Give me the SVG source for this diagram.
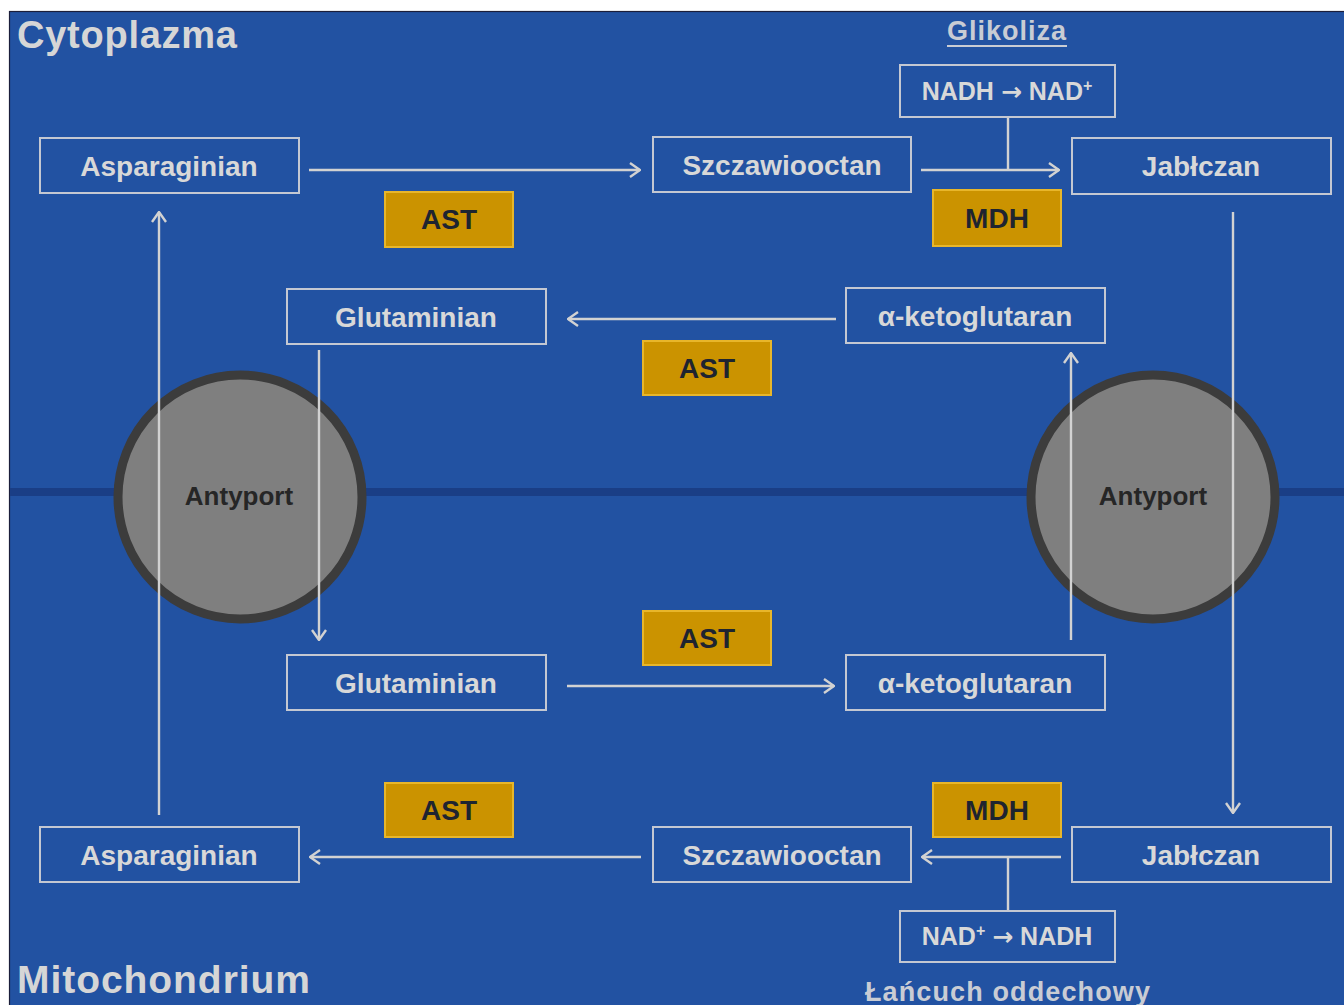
<svg xmlns="http://www.w3.org/2000/svg" width="1344" height="1005" viewBox="0 0 1344 1005">
  <defs>
    <marker id="arr" markerUnits="userSpaceOnUse" viewBox="0 0 12 16" refX="11" refY="8" markerWidth="12" markerHeight="16" orient="auto">
      <path d="M1,1 L11,8 L1,15" fill="none" stroke="#d2d2d2" stroke-width="2.4"/>
    </marker>
    <style>
      .lbl { font-family: "Liberation Sans", Arial, sans-serif; font-weight: bold; }
      .box rect { fill: none; stroke: #c4c8d2; stroke-width: 2; }
      .box text { fill: #d8d8d8; font-size: 28px; text-anchor: middle; }
      .enz rect { fill: #cb9300; stroke: #e8b62a; stroke-width: 2; }
      .enz text { fill: #1e2430; font-size: 28px; text-anchor: middle; }
      .ant circle { fill: #7f7f7f; stroke: #3c3c3c; stroke-width: 9; }
      .ant text { fill: #262626; font-size: 26px; text-anchor: middle; }
      .conn line { stroke: #d2d2d2; stroke-width: 2.4; fill: none; }
      .head { fill: #d6d6d6; }
      .sub { fill: #c9ccd4; }
      .cof rect { fill: none; stroke: #c4c8d2; stroke-width: 2; }
      .cof text { fill: #d8d8d8; font-size: 25px; text-anchor: middle; }
      .ar { font-family: "DejaVu Sans", sans-serif; font-weight: bold; font-size: 25px; }
    </style>
  </defs>

  <rect x="0" y="0" width="1344" height="1005" fill="#ffffff"/>
  <rect x="9.5" y="11.5" width="1340" height="1000" fill="#2252a2" stroke="#1b1e3a" stroke-width="1.2"/>

  <!-- membrane -->
  <line x1="10" y1="492" x2="1344" y2="492" stroke="#1a3e86" stroke-width="8"/>

  <!-- headings -->
  <text class="lbl head" x="17" y="48" font-size="38" textLength="220">Cytoplazma</text>
  <text class="lbl head" x="17" y="993" font-size="39" textLength="293">Mitochondrium</text>
  <text class="lbl sub" x="947" y="40" font-size="27" textLength="119">Glikoliza</text>
  <line x1="947" y1="46" x2="1067" y2="46" stroke="#c9ccd4" stroke-width="2"/>
  <text class="lbl sub" x="865" y="1001" font-size="27" textLength="285">Łańcuch oddechowy</text>

  <!-- antiporters -->
  <g id="antyport-left" class="ant">
    <circle cx="240" cy="497" r="122"/>
    <text class="lbl" x="239" y="505">Antyport</text>
  </g>
  <g id="antyport-right" class="ant">
    <circle cx="1153" cy="497" r="122"/>
    <text class="lbl" x="1153" y="505">Antyport</text>
  </g>

  <!-- connectors -->
  <g id="connectors" class="conn">
    <line x1="309" y1="170" x2="640" y2="170" marker-end="url(#arr)"/>
    <line x1="921" y1="170" x2="1059" y2="170" marker-end="url(#arr)"/>
    <line x1="1008" y1="117" x2="1008" y2="170"/>
    <line x1="836" y1="319" x2="568" y2="319" marker-end="url(#arr)"/>
    <line x1="567" y1="686" x2="834" y2="686" marker-end="url(#arr)"/>
    <line x1="641" y1="857" x2="310" y2="857" marker-end="url(#arr)"/>
    <line x1="1061" y1="857" x2="922" y2="857" marker-end="url(#arr)"/>
    <line x1="1008" y1="857" x2="1008" y2="910"/>
    <line x1="159" y1="815" x2="159" y2="212" marker-end="url(#arr)"/>
    <line x1="319" y1="350" x2="319" y2="640" marker-end="url(#arr)"/>
    <line x1="1071" y1="640" x2="1071" y2="353" marker-end="url(#arr)"/>
    <line x1="1233" y1="212" x2="1233" y2="813" marker-end="url(#arr)"/>
  </g>

  <!-- metabolite boxes -->
  <g id="asparaginian-cyt" class="box">
    <rect x="40" y="138" width="259" height="55"/>
    <text class="lbl" x="169" y="176">Asparaginian</text>
  </g>
  <g id="szczawiooctan-cyt" class="box">
    <rect x="653" y="137" width="258" height="55"/>
    <text class="lbl" x="782" y="175">Szczawiooctan</text>
  </g>
  <g id="jablczan-cyt" class="box">
    <rect x="1072" y="138" width="259" height="56"/>
    <text class="lbl" x="1201" y="176">Jabłczan</text>
  </g>
  <g id="glutaminian-cyt" class="box">
    <rect x="287" y="289" width="259" height="55"/>
    <text class="lbl" x="416" y="327">Glutaminian</text>
  </g>
  <g id="ketoglutaran-cyt" class="box">
    <rect x="846" y="288" width="259" height="55"/>
    <text class="lbl" x="975" y="326">α-ketoglutaran</text>
  </g>
  <g id="glutaminian-mit" class="box">
    <rect x="287" y="655" width="259" height="55"/>
    <text class="lbl" x="416" y="693">Glutaminian</text>
  </g>
  <g id="ketoglutaran-mit" class="box">
    <rect x="846" y="655" width="259" height="55"/>
    <text class="lbl" x="975" y="693">α-ketoglutaran</text>
  </g>
  <g id="asparaginian-mit" class="box">
    <rect x="40" y="827" width="259" height="55"/>
    <text class="lbl" x="169" y="865">Asparaginian</text>
  </g>
  <g id="szczawiooctan-mit" class="box">
    <rect x="653" y="827" width="258" height="55"/>
    <text class="lbl" x="782" y="865">Szczawiooctan</text>
  </g>
  <g id="jablczan-mit" class="box">
    <rect x="1072" y="827" width="259" height="55"/>
    <text class="lbl" x="1201" y="865">Jabłczan</text>
  </g>

  <!-- cofactor boxes -->
  <g id="nadh-cyt" class="cof">
    <rect x="900" y="65" width="215" height="52"/>
    <text class="lbl" x="1007" y="100">NADH <tspan class="ar">→</tspan> NAD<tspan font-size="16" dy="-9">+</tspan></text>
  </g>
  <g id="nad-mit" class="cof">
    <rect x="900" y="911" width="215" height="51"/>
    <text class="lbl" x="1007" y="945">NAD<tspan font-size="16" dy="-9">+</tspan><tspan dy="9"> </tspan><tspan class="ar">→</tspan> NADH</text>
  </g>

  <!-- enzymes -->
  <g id="ast-1" class="enz">
    <rect x="385" y="192" width="128" height="55"/>
    <text class="lbl" x="449" y="229">AST</text>
  </g>
  <g id="mdh-1" class="enz">
    <rect x="933" y="190" width="128" height="56"/>
    <text class="lbl" x="997" y="228">MDH</text>
  </g>
  <g id="ast-2" class="enz">
    <rect x="643" y="341" width="128" height="54"/>
    <text class="lbl" x="707" y="378">AST</text>
  </g>
  <g id="ast-3" class="enz">
    <rect x="643" y="611" width="128" height="54"/>
    <text class="lbl" x="707" y="648">AST</text>
  </g>
  <g id="ast-4" class="enz">
    <rect x="385" y="783" width="128" height="54"/>
    <text class="lbl" x="449" y="820">AST</text>
  </g>
  <g id="mdh-2" class="enz">
    <rect x="933" y="783" width="128" height="54"/>
    <text class="lbl" x="997" y="820">MDH</text>
  </g>
</svg>
